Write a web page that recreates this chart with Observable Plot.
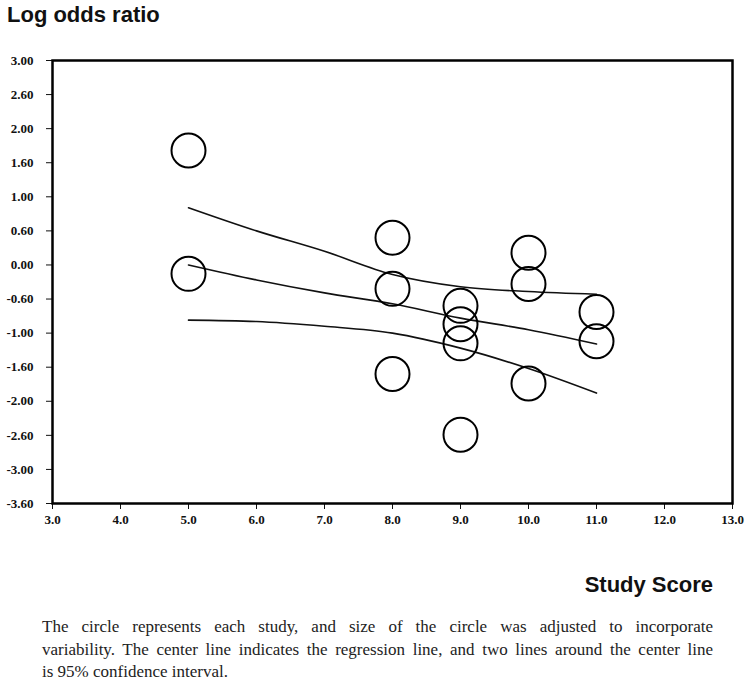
<!DOCTYPE html>
<html><head><meta charset="utf-8">
<script src="https://cdn.jsdelivr.net/npm/d3@7"></script>
<script src="https://cdn.jsdelivr.net/npm/@observablehq/plot@0.6"></script>
<style>
body{margin:0;background:#fff;width:750px;height:684px;position:relative;overflow:hidden}
#title{position:absolute;left:7px;top:2px;font:bold 22px "Liberation Sans",Arial,sans-serif;line-height:26px;color:#111;white-space:nowrap}
#chart{position:absolute;left:0;top:40px}
#xlabel{position:absolute;right:37px;top:572px;font:bold 22px "Liberation Sans",Arial,sans-serif;line-height:26px;color:#111;white-space:nowrap}
#caption{position:absolute;left:42px;width:671px;top:616px;font:17px "Liberation Serif","Times New Roman",serif;line-height:22.5px;color:#222}
.j{text-align:justify;text-align-last:justify}
</style></head>
<body>
<div id="title">Log odds ratio</div>
<div id="chart"></div>
<div id="xlabel">Study Score</div>
<div id="caption">
<div class="j">The circle represents each study, and size of the circle was adjusted to incorporate</div>
<div class="j">variability. The center line indicates the regression line, and two lines around the center line</div>
<div>is 95% confidence interval.</div>
</div>
<script>
// study points
const studyScore = [5, 5, 8, 8, 8, 9, 9, 9, 9, 10, 10, 10, 11, 11];
const logOdds = [1.68, -0.13, 0.40, -0.35, -1.60, -0.60, -0.87, -1.15, -2.49, 0.18, -0.28, -1.74, -0.69, -1.12];

// regression and 95% CI lines
const lineX = [5, 6, 7, 8, 9, 10, 11];
const upperCI = [0.84, 0.50, 0.20, -0.14, -0.32, -0.39, -0.43];
const regression = [0.0, -0.22, -0.41, -0.57, -0.78, -0.95, -1.16];
const lowerCI = [-0.81, -0.83, -0.90, -1.00, -1.22, -1.52, -1.88];

// ticks
const xTickValues = [3, 4, 5, 6, 7, 8, 9, 10, 11, 12, 13];
const xTickLabels = ["3.0", "4.0", "5.0", "6.0", "7.0", "8.0", "9.0", "10.0", "11.0", "12.0", "13.0"];
const yTickValues = [3, 2.5, 2, 1.5, 1, 0.5, 0, -0.5, -1, -1.5, -2, -2.5, -3, -3.5];
const yTickLabels = ["3.00", "2.60", "2.00", "1.60", "1.00", "0.60", "0.00", "-0.60", "-1.00", "-1.60", "-2.00", "-2.60", "-3.00", "-3.60"];

const points = studyScore.map((x, i) => ({x, y: logOdds[i]}));
const mk = arr => lineX.map((x, i) => ({x, y: arr[i]}));
const axisFont = {fontFamily: "Liberation Serif, Times New Roman, serif", fontSize: 13, fontWeight: "bold"};

const chart = Plot.plot({
  width: 750,
  height: 500,
  marginLeft: 52,
  marginRight: 18,
  marginTop: 20,
  marginBottom: 37,
  style: {background: "#fff", color: "#111"},
  x: {domain: [3, 13]},
  y: {domain: [-3.5, 3]},
  marks: [
    Plot.axisX({ticks: xTickValues, tickFormat: d => xTickLabels[xTickValues.indexOf(d)], tickSize: 6, tickPadding: 5, label: null, ...axisFont}),
    Plot.axisY({ticks: yTickValues, tickFormat: d => yTickLabels[yTickValues.indexOf(d)], tickSize: 6, tickPadding: 13, label: null, ...axisFont}),
    Plot.line(mk(upperCI), {x: "x", y: "y", curve: "monotone-x", stroke: "#111", strokeWidth: 1.6}),
    Plot.line(mk(regression), {x: "x", y: "y", curve: "monotone-x", stroke: "#111", strokeWidth: 1.6}),
    Plot.line(mk(lowerCI), {x: "x", y: "y", curve: "monotone-x", stroke: "#111", strokeWidth: 1.6}),
    Plot.dot(points, {x: "x", y: "y", r: 17, stroke: "#000", strokeWidth: 2, fill: "none"}),
    Plot.frame({stroke: "#000", strokeWidth: 2.5})
  ]
});
document.getElementById("chart").appendChild(chart);
</script>
</body></html>
